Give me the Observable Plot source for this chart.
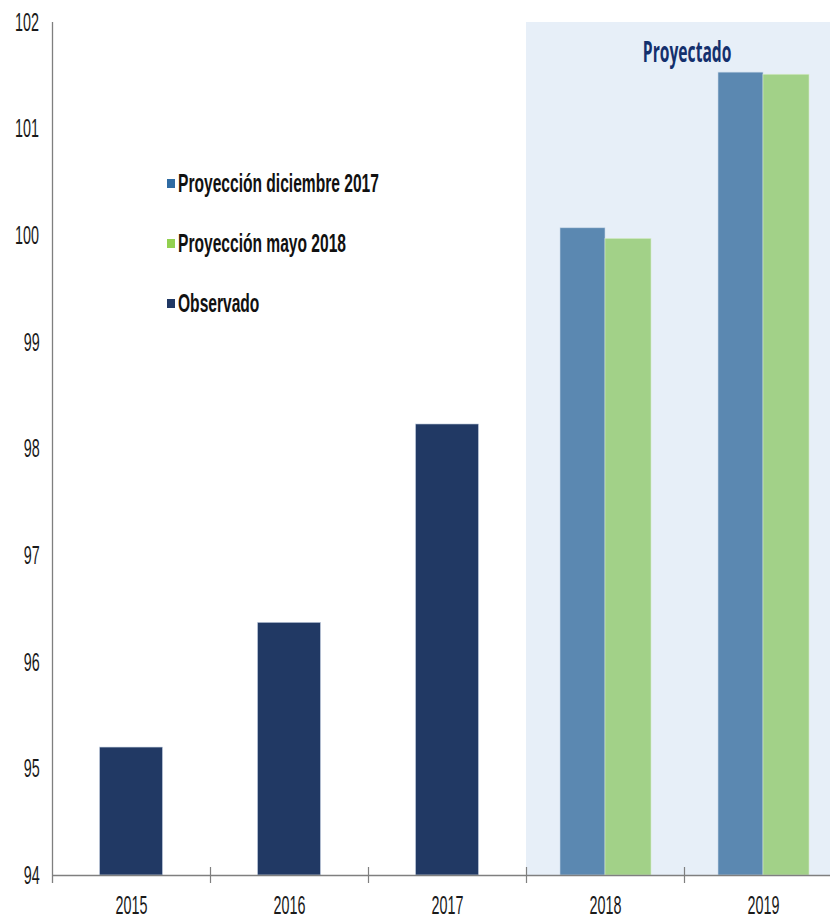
<!DOCTYPE html>
<html>
<head>
<meta charset="utf-8">
<script src="https://cdn.jsdelivr.net/npm/d3@7"></script>
<script src="https://cdn.jsdelivr.net/npm/@observablehq/plot@0.6"></script>
<style>
  html, body { margin: 0; padding: 0; background: #fff; }
  #wrap { position: relative; width: 830px; height: 917px; overflow: hidden; }
  .ov { position: absolute; white-space: nowrap; line-height: 1; }
  .leg { font-family: "Liberation Sans", Arial, sans-serif; font-weight: bold; font-size: 19px; color: #111; transform-origin: left center; }
  .sw { position: absolute; width: 8px; height: 9px; }
  .proj { font-family: "Open Sans", sans-serif; font-weight: bold; font-size: 17px; color: #14306d; transform-origin: center center; }
</style>
</head>
<body>
<div id="wrap"></div>
<script>
// ---- data ----
const years = ["2015", "2016", "2017", "2018", "2019"];
const observedYears = ["2015", "2016", "2017"];
const observedValues = [95.20, 96.37, 98.23];
const projectedYears = ["2018", "2019"];
const projDic2017 = [100.07, 101.53];
const projMay2018 = [99.97, 101.51];
const yTicks = [94, 95, 96, 97, 98, 99, 100, 101, 102];
const legendLabels = ["Proyección diciembre 2017", "Proyección mayo 2018", "Observado"];
const shadeLabel = "Proyectado";

// ---- styles ----
const cNavy = "#213964", cBlue = "#5b88b1", cGreen = "#a2d188", cShade = "#e7eff8";
const legendColors = ["#2f6ba3", "#92d050", "#203864"];
const axisColor = "#7f7f7f";

const observed = observedYears.map((year, i) => ({year, value: observedValues[i]}));
const projected = projectedYears.map((year, i) => ({year, dic: projDic2017[i], may: projMay2018[i]}));

const W = 830, H = 917, mL = 52, mT = 22, mB = 42;
const xRange = [52, 842];
const bw = (xRange[1] - xRange[0]) / years.length;
const pxPerUnit = (H - mB - mT) / (yTicks[yTicks.length - 1] - yTicks[0]);
const tickHalf = 8 / pxPerUnit;

const plot = Plot.plot({
  width: W, height: H,
  marginLeft: mL, marginRight: 0, marginTop: mT, marginBottom: mB,
  style: {fontFamily: "'Liberation Sans', Arial, sans-serif", background: "transparent"},
  x: {domain: years, range: xRange, padding: 0},
  y: {domain: [yTicks[0], yTicks[yTicks.length - 1]]},
  marks: [
    Plot.barY(projectedYears, {x: d => d, y1: yTicks[0], y2: yTicks[yTicks.length - 1], fill: cShade}),
    Plot.barY(observed, {x: "year", y1: yTicks[0], y2: "value", fill: cNavy, stroke: "#c9d3e3", strokeWidth: 0.6, insetLeft: 47.5, insetRight: 47.5}),
    Plot.barY(projected, {x: "year", y1: yTicks[0], y2: "dic", fill: cBlue, stroke: "#c9d8e8", strokeWidth: 0.6, insetLeft: 34, insetRight: 79}),
    Plot.barY(projected, {x: "year", y1: yTicks[0], y2: "may", fill: cGreen, stroke: "#d6ecc9", strokeWidth: 0.6, insetLeft: 79, insetRight: 33}),
    Plot.ruleY([yTicks[0]], {stroke: axisColor, strokeWidth: 1.3}),
    Plot.ruleX([years[0]], {dx: -bw / 2, y1: yTicks[0] - tickHalf, y2: yTicks[yTicks.length - 1], stroke: axisColor, strokeWidth: 1.3}),
    Plot.ruleX(years.slice(1), {dx: -bw / 2, y1: yTicks[0] - tickHalf, y2: yTicks[0] + tickHalf, stroke: axisColor, strokeWidth: 1.2}),
    Plot.axisX({tickSize: 0, tickPadding: 23, fontSize: 17.5, fill: "#1a1a1a", label: null}),
    Plot.axisY({ticks: yTicks, tickSize: 0, tickPadding: 11, fontSize: 17.5, fill: "#1a1a1a", label: null, tickFormat: d => String(d)})
  ]
});

const wrap = document.getElementById("wrap");
wrap.appendChild(plot);

// narrow + tall text look (like the reference's condensed font)
function stretchSvgText(svg, sx, sy) {
  svg.querySelectorAll("text").forEach(t => {
    const r = t.getBoundingClientRect();
    const parent = t.parentNode;
    const inv = parent.getScreenCTM().inverse();
    const pt = svg.createSVGPoint();
    pt.x = r.left + r.width / 2; pt.y = r.top + r.height / 2;
    const c = pt.matrixTransform(inv);
    const g = document.createElementNS("http://www.w3.org/2000/svg", "g");
    g.setAttribute("transform", `translate(${c.x},${c.y}) scale(${sx},${sy}) translate(${-c.x},${-c.y})`);
    parent.insertBefore(g, t);
    g.appendChild(t);
  });
}
stretchSvgText(plot, 0.82, 1.46);

// legend overlay
const legY = [183, 243, 303];
legendLabels.forEach((lab, i) => {
  const sw = document.createElement("div");
  sw.className = "sw";
  sw.style.left = "167px";
  sw.style.top = (legY[i] - 4.5) + "px";
  sw.style.background = legendColors[i];
  wrap.appendChild(sw);
  const t = document.createElement("div");
  t.className = "ov leg";
  t.textContent = lab;
  t.style.left = "178px";
  t.style.top = (legY[i] - 9.5) + "px";
  t.style.transform = "scale(0.82, 1.34)";
  wrap.appendChild(t);
});

// "Proyectado" label
const p = document.createElement("div");
p.className = "ov proj";
p.textContent = shadeLabel;
p.style.left = "0px";
p.style.top = "0px";
wrap.appendChild(p);
const pw = p.getBoundingClientRect().width;
p.style.left = (687 - pw / 2) + "px";
p.style.top = "43px";
p.style.transform = "scale(0.92, 1.65)";
</script>
</body>
</html>
